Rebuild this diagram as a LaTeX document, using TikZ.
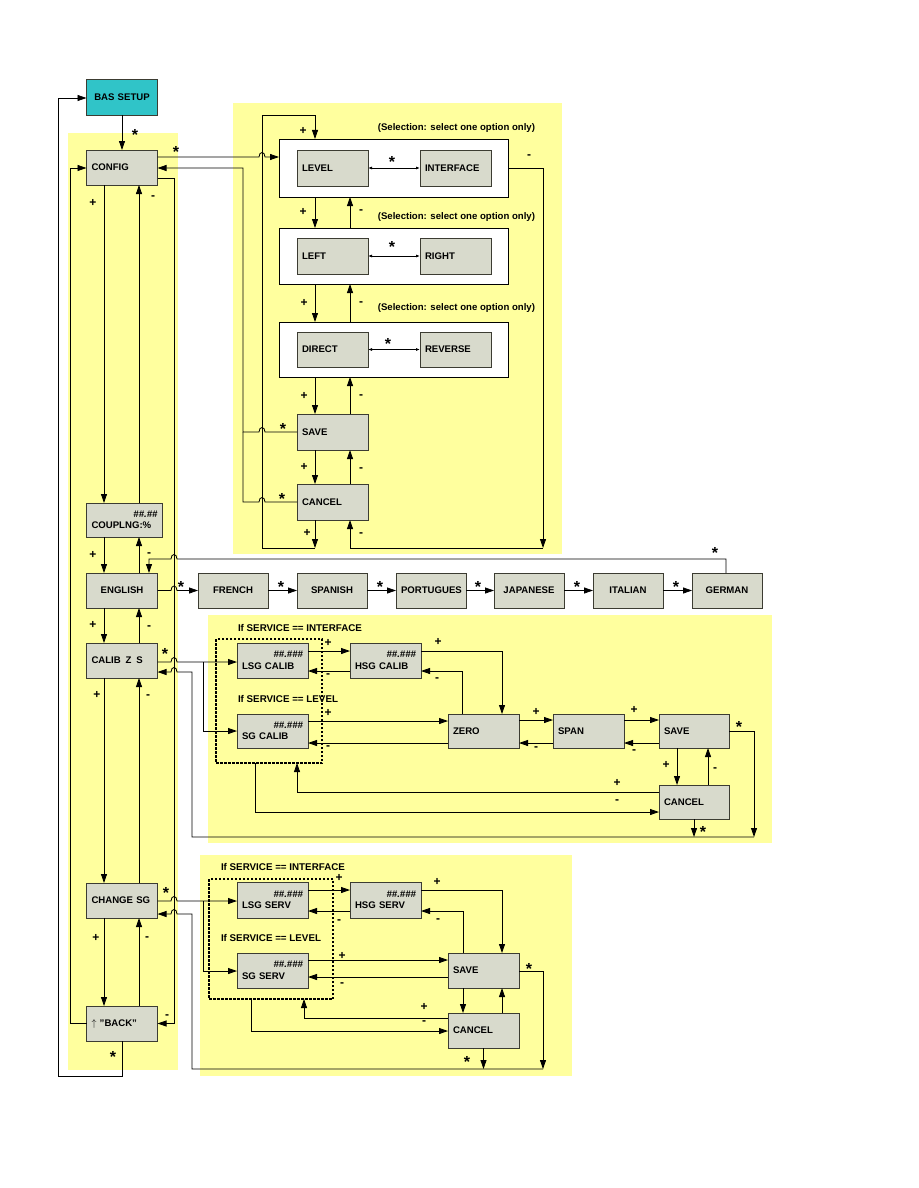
\documentclass[tikz,border=0pt]{standalone}
\usepackage{fontspec}
\setmainfont{Liberation Sans}
\usetikzlibrary{arrows.meta}
\definecolor{yel}{RGB}{255,255,158}
\definecolor{boxfill}{RGB}{216,218,204}
\definecolor{boxline}{RGB}{60,60,50}
\definecolor{tealbox}{RGB}{48,196,200}
\newcommand{\dgfont}{\fontsize{9.6}{11.5}\selectfont\bfseries}
\newcommand{\hsh}{{\itshape\#\#.\#\#\#}}
\begin{document}
\begin{tikzpicture}[x=1pt,y=-1pt,
  every node/.style={inner sep=0pt, outer sep=0pt},
  box/.style={draw=boxline, fill=boxfill, line width=0.8pt, inner xsep=5pt, inner ysep=0pt, font=\dgfont, minimum height=35pt, minimum width=71pt, text width=61pt, align=left},
  ctr/.style={align=center},
  grp/.style={draw=black, fill=white, line width=0.8pt},
  dbox/.style={draw=black, line width=1.3pt, dash pattern=on 2.5pt off 1.5pt},
  con/.style={line width=0.8pt},
  >={Triangle[length=9pt,width=6pt]},
  sm/.style={line width=0.8pt, <->, >={Latex[length=4pt,width=3pt]}},
  pm/.style={font=\fontsize{12}{12}\selectfont\bfseries},
  st/.style={font=\fontsize{16}{16}\selectfont\bfseries, yshift=-4pt},
  note/.style={font=\fontsize{9.6}{11}\selectfont\bfseries, anchor=east},
  cond/.style={font=\fontsize{9.8}{11}\selectfont\bfseries, anchor=west},
]
\fill[white] (0,0) rectangle (918,1188);
\useasboundingbox (0,0) rectangle (918,1188);
% yellow areas
\fill[yel] (68,133) rectangle (178,1070);
\fill[yel] (233,103) rectangle (562,554);
\fill[yel] (208,615) rectangle (772,843);
\fill[yel] (200,855) rectangle (572,1076);

% ---------- main column ----------
\node[box, fill=tealbox, ctr, minimum height=36pt] (BAS) at (122,97) {BAS SETUP};
\node[box] (CONFIG) at (122,167.5) {CONFIG};
\node[box, minimum width=76pt, text width=66pt, minimum height=34pt] (COUP) at (124.5,520) {\hspace*{\fill}{\itshape\#\#.\#\#}\\COUPLNG:\%};
\node[box, ctr] (ENG) at (122,590.5) {ENGLISH};
\node[box] (CALIB) at (122,660.5) {CALIB\enspace Z\enspace S};
\node[box] (CHANGE) at (122,900.5) {CHANGE SG};
\node[box] (BACK) at (122,1023.5) {$\uparrow$ "BACK"};

\draw[con,->] (BAS.south) -- (CONFIG.north);
\draw[con,->] (CONFIG.south -| 104,0) -- (COUP.north -| 104,0);
\draw[con,->] (COUP.north -| 139,0) -- (CONFIG.south -| 139,0);
\draw[con,->] (COUP.south -| 104,0) -- (ENG.north -| 104,0);
\draw[con,->] (ENG.north -| 139,0) -- (COUP.south -| 139,0);
\draw[con,->] (ENG.south -| 104,0) -- (CALIB.north -| 104,0);
\draw[con,->] (CALIB.north -| 139,0) -- (ENG.south -| 139,0);
\draw[con,->] (CALIB.south -| 104,0) -- (CHANGE.north -| 104,0);
\draw[con,->] (CHANGE.north -| 139,0) -- (CALIB.south -| 139,0);
\draw[con,->] (CHANGE.south -| 104,0) -- (BACK.north -| 104,0);
\draw[con,->] (BACK.north -| 139,0) -- (CHANGE.south -| 139,0);
\draw[con,->] (BACK.west) -- (70,1023.5) -- (70,168) -- (CONFIG.west |- 0,168);
\draw[con,->] (BACK.south) -- (122,1076) -- (58,1076) -- (58,98) -- (BAS.west |- 0,98);
\draw[con,->] (CONFIG.east |- 0,178) -- (174,178) -- (174,1023.5) -- (BACK.east);

\node[st] (s1) at (135,131) {*};
\node[pm] (p1) at (93,203) {+};
\node[pm] (m1) at (153,198) {-};
\node[pm] (p2) at (93,555) {+};
\node[pm] (m2) at (149,555) {-};
\node[pm] (p3) at (93,625) {+};
\node[pm] (m3) at (149,628) {-};
\node[pm] (p4) at (97,695) {+};
\node[pm] (m4) at (148,697) {-};
\node[pm] (p5) at (96,938) {+};
\node[pm] (m5) at (147,939) {-};
\node[pm] (m6) at (167,1017) {-};
\node[st] (s21) at (113,1053) {*};

% ---------- top right ----------
\node[grp, minimum width=229pt, minimum height=58pt] (g1) at (393.5,168) {};
\node[grp, minimum width=229pt, minimum height=56pt] (g2) at (393.5,256) {};
\node[grp, minimum width=229pt, minimum height=55pt] (g3) at (393.5,349.5) {};
\node[box, minimum height=36pt] (LEVEL) at (332.5,168) {LEVEL};
\node[box, minimum height=36pt] (INTF) at (455.5,168) {INTERFACE};
\node[box, minimum height=36pt] (LEFT) at (332.5,256) {LEFT};
\node[box, minimum height=36pt] (RIGHT) at (455.5,256) {RIGHT};
\node[box] (DIRECT) at (332.5,349.5) {DIRECT};
\node[box] (REV) at (455.5,349.5) {REVERSE};
\node[box, minimum height=36pt] (SAVEa) at (332.5,432) {SAVE};
\node[box, minimum height=36pt] (CANCELa) at (332.5,502) {CANCEL};
\node[note] (n1) at (535,128) {(Selection: select one option only)};
\node[note] (n2) at (535,217) {(Selection: select one option only)};
\node[note] (n3) at (535,308) {(Selection: select one option only)};

\draw[sm] (LEVEL.east) -- (INTF.west);
\draw[sm] (LEFT.east) -- (RIGHT.west);
\draw[sm] (DIRECT.east) -- (REV.west);
\node[st] (s3) at (392,158) {*};
\node[st] (s4) at (392,243) {*};
\node[st] (s5) at (388,340) {*};

\draw[con,->] (CONFIG.east |- 0,157) -- (259,157) .. controls (259,151) and (265,151) .. (265,157) -- (g1.west |- 0,157);
\node[st] (s2) at (176,148) {*};
\draw[con,->] (g1.east |- 0,168) -- (543,168) -- (543,548);
\draw[con,->] (543,548) -- (350,548) -- (CANCELa.south -| 350,0);
\draw[con,->] (CANCELa.south -| 315,0) -- (315,548);
\draw[con,->] (315,548) -- (262,548) -- (262,115) -- (315,115) -- (g1.north -| 315,0);
\draw[con,->] (SAVEa.west) -- (265,432) .. controls (265,426) and (259,426) .. (259,432) -- (243,432) -- (243,168) -- (CONFIG.east |- 0,168);
\draw[con] (CANCELa.west) -- (265,502) .. controls (265,496) and (259,496) .. (259,502) -- (243,502) -- (243,432);
\node[st] (s6) at (283,425) {*};
\node[st] (s7) at (282,495) {*};
\node[pm] (m7) at (529,157) {-};

\draw[con,->] (g1.south -| 315,0) -- (g2.north -| 315,0);
\draw[con,->] (g2.north -| 350,0) -- (g1.south -| 350,0);
\draw[con,->] (g2.south -| 315,0) -- (g3.north -| 315,0);
\draw[con,->] (g3.north -| 350,0) -- (g2.south -| 350,0);
\draw[con,->] (g3.south -| 315,0) -- (SAVEa.north -| 315,0);
\draw[con,->] (SAVEa.north -| 350,0) -- (g3.south -| 350,0);
\draw[con,->] (SAVEa.south -| 315,0) -- (CANCELa.north -| 315,0);
\draw[con,->] (CANCELa.north -| 350,0) -- (SAVEa.south -| 350,0);
\node[pm] (p8) at (303,131) {+};
\node[pm] (p9) at (303,212) {+};
\node[pm] (m9) at (361,212) {-};
\node[pm] (p10) at (304,303) {+};
\node[pm] (m10) at (361,304) {-};
\node[pm] (p11) at (304,396) {+};
\node[pm] (m11) at (361,397) {-};
\node[pm] (p12) at (304,467) {+};
\node[pm] (m12) at (361,470) {-};
\node[pm] (p13) at (307,533) {+};
\node[pm] (m13) at (361,535) {-};

% ---------- languages ----------
\node[box, ctr, minimum width=70pt, text width=60pt] (FR) at (233,590.5) {FRENCH};
\node[box, ctr, minimum width=70pt, text width=60pt] (SP) at (332,590.5) {SPANISH};
\node[box, ctr, minimum width=70pt, text width=60pt] (PT) at (431,590.5) {PORTUGUES};
\node[box, ctr, minimum width=70pt, text width=60pt] (JP) at (529,590.5) {JAPANESE};
\node[box, ctr, minimum width=70pt, text width=60pt] (IT) at (628,590.5) {ITALIAN};
\node[box, ctr, minimum width=70pt, text width=60pt] (GE) at (727,590.5) {GERMAN};
\draw[con,->] (ENG.east) -- (171,590.5) .. controls (171,584.5) and (177,584.5) .. (177,590.5) -- (FR.west);
\draw[con,->] (FR.east) -- (SP.west);
\draw[con,->] (SP.east) -- (PT.west);
\draw[con,->] (PT.east) -- (JP.west);
\draw[con,->] (JP.east) -- (IT.west);
\draw[con,->] (IT.east) -- (GE.west);
\draw[con,->] (GE.north -| 726,0) -- (726,559) -- (177,559) .. controls (177,553) and (171,553) .. (171,559) -- (149,559) -- (ENG.north -| 149,0);
\node[st] (s8) at (181,583) {*};
\node[st] (s9) at (281,583) {*};
\node[st] (s10) at (380,583) {*};
\node[st] (s11) at (478,583) {*};
\node[st] (s12) at (577,583) {*};
\node[st] (s13) at (676,583) {*};
\node[st] (s14) at (715,549) {*};

% ---------- calibration ----------
\node[dbox, minimum width=106pt, minimum height=124pt] (D1) at (269,701) {};
\node[cond] (c1) at (238,628) {If SERVICE == INTERFACE};
\node[cond] (c2) at (238,699) {If SERVICE == LEVEL};
\node[box] (LSGC) at (272.5,660.5) {\hspace*{\fill}\hsh\\LSG CALIB};
\node[box] (HSGC) at (385.5,660.5) {\hspace*{\fill}\hsh\\HSG CALIB};
\node[box, minimum height=34pt] (SGC) at (272.5,731) {\hspace*{\fill}\hsh\\SG CALIB};
\node[box, minimum height=34pt] (ZERO) at (483.5,731) {ZERO};
\node[box, minimum height=34pt] (SPAN) at (588.5,731) {SPAN};
\node[box, minimum height=34pt, minimum width=70pt, text width=60pt] (SAVEb) at (694,731) {SAVE};
\node[box, minimum height=34pt, minimum width=70pt, text width=60pt] (CANCELb) at (694,802) {CANCEL};

\draw[con,->] (CALIB.east |- 0,662) -- (171,662) .. controls (171,656) and (177,656) .. (177,662) -- (LSGC.west |- 0,662);
\draw[con,->] (203,662) -- (203,731) -- (SGC.west);
\draw[con,->] (SAVEb.east) -- (754,731) -- (754,837);
\draw[con,->] (CANCELb.south) -- (694,837);
\draw[con,->] (754,837) -- (192,837) -- (192,672) -- (177,672) .. controls (177,666) and (171,666) .. (171,672) -- (CALIB.east |- 0,672);
\draw[con,->] (LSGC.east |- 0,651) -- (HSGC.west |- 0,651);
\draw[con,->] (HSGC.west |- 0,671) -- (LSGC.east |- 0,671);
\draw[con,->] (HSGC.east |- 0,651) -- (502,651) -- (ZERO.north -| 502,0);
\draw[con,->] (ZERO.north -| 462,0) -- (462,671) -- (HSGC.east |- 0,671);
\draw[con,->] (SGC.east |- 0,721) -- (ZERO.west |- 0,721);
\draw[con,->] (ZERO.west |- 0,743) -- (SGC.east |- 0,743);
\draw[con,->] (ZERO.east |- 0,720) -- (SPAN.west |- 0,720);
\draw[con,->] (SPAN.west |- 0,743) -- (ZERO.east |- 0,743);
\draw[con,->] (SPAN.east |- 0,720) -- (SAVEb.west |- 0,720);
\draw[con,->] (SAVEb.west |- 0,743) -- (SPAN.east |- 0,743);
\draw[con,->] (SAVEb.south -| 677,0) -- (CANCELb.north -| 677,0);
\draw[con,->] (CANCELb.north -| 708,0) -- (SAVEb.south -| 708,0);
\draw[con,->] (CANCELb.west |- 0,792) -- (297,792) -- (D1.south -| 297,0);
\draw[con,->] (D1.south -| 255,0) -- (255,812) -- (CANCELb.west |- 0,812);
\node[st] (s15) at (165,650) {*};
\node[st] (s16) at (739,723) {*};
\node[st] (s17) at (703,828) {*};
\node[pm] (p14) at (328,643) {+};
\node[pm] (m14) at (328,676) {-};
\node[pm] (p15) at (438,642) {+};
\node[pm] (m15) at (437,680) {-};
\node[pm] (p16) at (328,713) {+};
\node[pm] (m16) at (328,748) {-};
\node[pm] (p17) at (536,712) {+};
\node[pm] (m17) at (536,749) {-};
\node[pm] (p18) at (634,710) {+};
\node[pm] (m18) at (634,752) {-};
\node[pm] (p19) at (666,765) {+};
\node[pm] (m19) at (715,770) {-};
\node[pm] (p20) at (617,783) {+};
\node[pm] (m20) at (617,802) {-};

% ---------- service ----------
\node[dbox, minimum width=124pt, minimum height=120pt] (D2) at (271,939) {};
\node[cond] (c3) at (221,867) {If SERVICE == INTERFACE};
\node[cond] (c4) at (221,938) {If SERVICE == LEVEL};
\node[box, minimum height=36pt] (LSGS) at (272.5,900) {\hspace*{\fill}\hsh\\LSG SERV};
\node[box, minimum height=36pt] (HSGS) at (385.5,900) {\hspace*{\fill}\hsh\\HSG SERV};
\node[box] (SGS) at (272.5,970.5) {\hspace*{\fill}\hsh\\SG SERV};
\node[box] (SAVEc) at (483.5,970.5) {SAVE};
\node[box] (CANCELc) at (483.5,1030.5) {CANCEL};

\draw[con,->] (CHANGE.east |- 0,901) -- (171,901) .. controls (171,895) and (177,895) .. (177,901) -- (LSGS.west |- 0,901);
\draw[con,->] (203,901) -- (203,971) -- (SGS.west |- 0,971);
\draw[con,->] (SAVEc.east |- 0,971) -- (543,971) -- (543,1069);
\draw[con,->] (CANCELc.south) -- (483.5,1069);
\draw[con,->] (543,1069) -- (192,1069) -- (192,914) -- (177,914) .. controls (177,908) and (171,908) .. (171,914) -- (CHANGE.east |- 0,914);
\draw[con,->] (LSGS.east |- 0,890) -- (HSGS.west |- 0,890);
\draw[con,->] (HSGS.west |- 0,911) -- (LSGS.east |- 0,911);
\draw[con,->] (HSGS.east |- 0,890) -- (502,890) -- (SAVEc.north -| 502,0);
\draw[con,->] (SAVEc.north -| 463,0) -- (463,911) -- (HSGS.east |- 0,911);
\draw[con,->] (SGS.east |- 0,960) -- (SAVEc.west |- 0,960);
\draw[con,->] (SAVEc.west |- 0,977) -- (SGS.east |- 0,977);
\draw[con,->] (SAVEc.south -| 463,0) -- (CANCELc.north -| 463,0);
\draw[con,->] (CANCELc.north -| 502,0) -- (SAVEc.south -| 502,0);
\draw[con,->] (CANCELc.west |- 0,1018) -- (304,1018) -- (D2.south -| 304,0);
\draw[con,->] (D2.south -| 251,0) -- (251,1031) -- (CANCELc.west |- 0,1031);
\node[st] (s18) at (166,889) {*};
\node[st] (s19) at (529,965) {*};
\node[st] (s20) at (467,1058) {*};
\node[pm] (p21) at (339,878) {+};
\node[pm] (m21) at (339,922) {-};
\node[pm] (p22) at (437,882) {+};
\node[pm] (m22) at (438,921) {-};
\node[pm] (p23) at (342,956) {+};
\node[pm] (m23) at (342,985) {-};
\node[pm] (p24) at (424,1007) {+};
\node[pm] (m24) at (424,1023) {-};
\end{tikzpicture}
\end{document}
